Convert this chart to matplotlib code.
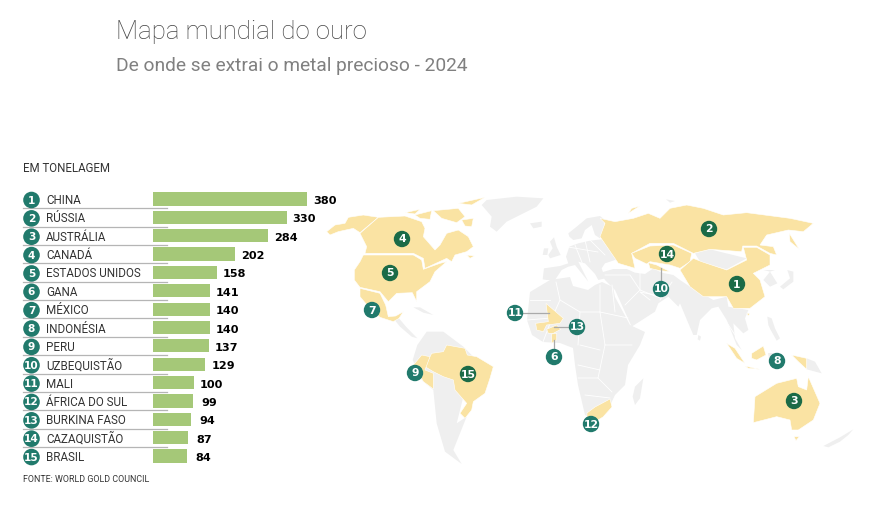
#!/usr/bin/env python3
"""Mapa mundial do ouro: bar list on the left, hand-traced world map on the right."""

import matplotlib

matplotlib.use("Agg")
import matplotlib.pyplot as plt
from matplotlib.patches import Circle, Polygon

W, H = 881, 509

countries = ["CHINA", "RÚSSIA", "AUSTRÁLIA", "CANADÁ", "ESTADOS UNIDOS", "GANA", "MÉXICO",
             "INDONÉSIA", "PERU", "UZBEQUISTÃO", "MALI", "ÁFRICA DO SUL", "BURKINA FASO",
             "CAZAQUISTÃO", "BRASIL"]
tons = [380, 330, 284, 202, 158, 141, 140, 140, 137, 129, 100, 99, 94, 87, 84]

# map marker centres, rank order (pixels)
marker_xy = [(737, 284), (709, 229), (794, 401), (402, 239), (390, 273), (554, 357), (372, 310),
             (777, 361), (415, 373), (661, 289), (515, 313), (591, 424), (577, 327), (667, 254),
             (468, 374)]
on_yellow = {1, 2, 3, 4, 5, 14, 15}
leaders = [((661, 268), (661, 281)), ((523, 313), (549, 313)), ((554, 327), (569, 327)),
           ((554, 340), (554, 349))]


def trace(x0, y0, pts):
    return [(x0 + x / 3, y0 + y / 3) for x, y in pts]


def west(pts):
    return trace(330, 190, pts)


def east(pts):
    return trace(590, 190, pts)


def eur(pts):
    return trace(530, 200, pts)


def nam(pts):
    return trace(325, 190, pts)


def sea(pts):
    return trace(680, 270, pts)


# grey land
greenland = west([(470, 30), (560, 20), (640, 25), (620, 50), (570, 75), (530, 95), (500, 125),
                  (480, 110), (485, 80), (455, 45)])
iceland = west([(600, 100), (635, 95), (635, 110), (610, 115)])
britain = eur([(60, 125), (72, 112), (80, 140), (92, 165), (60, 175), (55, 165), (68, 145)])
ireland = eur([(42, 145), (55, 145), (52, 165), (38, 165)])
svalbard = east([(228, 28), (255, 33), (240, 38)])
europe = eur([(38, 238), (42, 205), (90, 198), (115, 190), (108, 170), (118, 140), (145, 130), (180, 122),
              (215, 118), (232, 135), (270, 185), (255, 180), (225, 190), (215, 205), (225, 235), (205, 240),
              (195, 222), (165, 190), (145, 185), (175, 245), (155, 220), (135, 195), (115, 200), (95, 210),
              (75, 240), (50, 240)])
nordic = eur([(115, 100), (140, 80), (170, 55), (210, 48), (225, 60), (218, 100), (210, 115), (195, 105),
              (185, 75), (165, 90), (155, 115), (130, 120), (118, 110)])
africa = [(527, 320), (530, 292), (550, 280), (570, 277), (573, 286), (588, 290), (595, 285), (602, 282),
          (613, 287), (615, 297), (630, 325), (645, 332), (640, 345), (628, 365), (625, 385), (615, 395),
          (608, 410), (595, 420), (585, 415), (578, 385), (575, 365), (573, 348), (560, 343), (543, 342),
          (532, 335)]
madagascar = east([(160, 565), (150, 625), (135, 645), (128, 620), (135, 590)])
asia = eur([(212, 218), (250, 207), (290, 207), (315, 218), (345, 222), (370, 205), (395, 218), (430, 225),
            (450, 240)]) + sea([(30, 50), (100, 90), (140, 80), (145, 110), (205, 120), (195, 145), (205, 180),
                                 (190, 190), (160, 160), (165, 205), (185, 240), (170, 225), (150, 175), (140, 150),
                                 (115, 110), (95, 115), (60, 150), (50, 195), (40, 195), (25, 160), (0, 100)]) + eur(
    [(445, 320), (415, 290), (385, 310), (375, 335), (305, 380), (255, 270), (225, 240)])
mongolia = east([(315, 190), (360, 178), (470, 205), (410, 238), (330, 215)])
korea = sea([(250, 30), (270, 5), (292, 40), (270, 50)])
russia_far = sea([(250, 0), (285, 0), (270, 5)])
japan = sea([(300, 50), (330, 25), (322, 0), (340, 5), (340, 35), (310, 58)])
philippines = sea([(262, 140), (275, 145), (285, 175), (300, 205), (290, 212), (272, 180), (265, 165)])
papua = sea([(380, 265), (405, 275), (425, 310), (380, 298)])
sulawesi = sea([(265, 250), (290, 250), (290, 285), (270, 285)])
new_zealand = east([(700, 768), (750, 742), (790, 718), (775, 735), (750, 755), (715, 772)])
srilanka = sea([(55, 195), (63, 200), (60, 212), (53, 208)])
central_am = west([(190, 385), (207, 385), (228, 410), (262, 445), (245, 440), (210, 410)])
cuba = west([(250, 352), (270, 352), (310, 375), (280, 368)])
south_am = west([(248, 510), (262, 465), (290, 425), (340, 425), (400, 470), (430, 500),
                 (380, 700), (410, 680), (370, 780), (395, 822), (345, 785), (320, 700), (310, 600),
                 (275, 570)])
grey_land = [greenland, iceland, britain, ireland, svalbard, europe, nordic, africa, madagascar, asia, mongolia,
             korea, russia_far, japan, philippines, papua, sulawesi, new_zealand, srilanka, central_am, cuba,
             south_am]

# white country borders over the grey land
borders = [[(527, 320), (552, 318), (560, 300), (556, 282)], [(560, 300), (580, 312), (600, 312), (600, 285)],
           [(580, 312), (578, 345)], [(600, 312), (605, 345), (632, 345)], [(605, 345), (598, 378), (578, 378)],
           [(598, 378), (612, 392)], [(585, 395), (610, 398)], [(552, 318), (543, 342)], [(580, 345), (600, 350)],
           [(600, 312), (628, 318)], [(612, 285), (615, 312)], [(575, 245), (583, 265)], [(568, 247), (598, 252)],
           [(585, 240), (590, 262)], [(590, 240), (605, 255)], [(605, 275), (630, 275), (640, 290)],
           [(640, 272), (640, 290), (660, 298)], [(660, 300), (672, 282)], [(722, 315), (735, 335)],
           [(640, 290), (625, 305)], [(655, 295), (640, 292), (650, 300)],
           [(530, 300), (550, 300)], [(578, 365), (600, 370)]]

# yellow producers
alaska = nam([(5, 125), (30, 105), (60, 100), (70, 82), (115, 75), (160, 82), (105, 128), (85, 115), (40, 125),
              (15, 135)])
canada = nam([(160, 82), (240, 78), (290, 95), (300, 115), (295, 140), (330, 180), (345, 165), (365, 130), (400, 120),
              (430, 140), (445, 170), (425, 185), (390, 195), (380, 215), (365, 205), (300, 235), (295, 205),
              (265, 190), (120, 190), (125, 170), (105, 130)])
nova_scotia = nam([(425, 195), (448, 198), (435, 205)])
arctic = [nam(p) for p in ([(240, 68), (285, 58), (270, 72)], [(270, 75), (320, 62), (315, 88), (285, 85)],
                           [(325, 62), (400, 55), (420, 80), (395, 98), (350, 85)], [(400, 40), (480, 22), (440, 45)],
                           [(410, 90), (445, 85), (440, 110), (420, 108)])]
usa = nam([(115, 195), (265, 195), (290, 210), (295, 238), (345, 220), (365, 215), (330, 245), (315, 275), (275, 305),
           (275, 335), (262, 308), (215, 310), (190, 335), (165, 305), (105, 292), (88, 270), (88, 240), (105, 215)])
mexico = nam([(105, 295), (165, 310), (182, 345), (190, 380), (212, 378), (235, 365), (222, 385), (205, 395), (165, 382),
              (130, 350), (105, 320)])
brazil = west([(285, 530), (305, 490), (340, 485), (350, 465), (405, 475), (412, 495), (440, 500), (490, 530),
               (480, 565), (465, 610), (430, 635), (425, 660), (405, 685), (390, 670), (410, 640), (375, 600),
               (370, 570), (340, 560), (310, 545)])
peru = west([(250, 525), (275, 495), (300, 500), (285, 540), (310, 550), (310, 597), (280, 575), (260, 540)])
mali = west([(648, 340), (700, 385), (690, 400), (650, 405), (640, 425), (620, 420), (617, 400), (655, 395)])
burkina = west([(650, 418), (680, 405), (692, 418), (670, 430), (655, 430)])
ghana = west([(665, 432), (680, 430), (680, 450), (665, 460)])
south_africa = [(587, 413), (595, 407), (610, 399), (612, 407), (603, 417), (593, 423), (587, 420)]
russia = east([(30, 140), (45, 100), (30, 85), (75, 95), (130, 85), (175, 70), (210, 85), (240, 55), (290, 45),
               (340, 55), (400, 75), (470, 68), (600, 85), (670, 100), (640, 125), (595, 120), (530, 135),
               (510, 165), (550, 170), (560, 195), (540, 190), (500, 168), (458, 168), (455, 185), (360, 178),
               (310, 190), (250, 160), (180, 160), (125, 190), (135, 235), (85, 220)])
novaya = east([(115, 70), (150, 48), (125, 55)])
kamchatka = east([(598, 130), (628, 178), (600, 155)])
kazakhstan = east([(125, 190), (180, 168), (250, 165), (305, 190), (300, 215), (270, 235), (240, 225),
                   (180, 215), (170, 222), (135, 205)])
uzbekistan = east([(175, 218), (200, 225), (240, 245), (210, 242), (180, 235)])
china = east([(270, 240), (310, 205), (335, 215), (410, 240), (470, 210), (460, 172), (500, 172), (540, 195),
              (540, 225), (490, 250), (510, 270), (525, 320), (480, 355), (430, 355), (410, 320), (340, 320),
              (300, 290)])
hainan = sea([(200, 130), (210, 130), (205, 138)])
sumatra = sea([(140, 220), (165, 235), (195, 280), (170, 265)])
borneo = sea([(215, 250), (250, 228), (258, 255), (230, 270), (215, 265)])
java = sea([(195, 288), (240, 298), (205, 295)])
west_papua = sea([(335, 255), (380, 265), (380, 298), (355, 275)])
australia = east([(495, 620), (560, 580), (620, 565), (625, 590), (650, 600), (655, 560), (690, 640), (670, 690),
                  (625, 720), (605, 720), (600, 690), (560, 680), (490, 698)])
tasmania = east([(612, 740), (628, 740), (618, 752)])
yellow_land = [alaska, canada, nova_scotia, *arctic, usa, mexico, brazil, peru, mali, burkina, ghana, south_africa,
               russia, novaya, kamchatka, kazakhstan, uzbekistan, china, hainan, sumatra, borneo, java, west_papua,
               australia, tasmania]

GREY = "#efefef"
YELLOW = "#fae3a3"
BAR = "#a5c878"
TEAL = "#217a6c"
DARK = "#1b6b47"
INK = "#333333"

fig = plt.figure(figsize=(W / 100, H / 100), dpi=100, facecolor="white")
ax = fig.add_axes([0, 0, 1, 1])
ax.set_xlim(0, W)
ax.set_ylim(H, 0)
ax.axis("off")

for pts in grey_land:
    ax.add_patch(Polygon(pts, closed=True, fc=GREY, ec="none", zorder=1))
for line in borders:
    xs, ys = zip(*line)
    ax.plot(xs, ys, color="white", lw=0.6, zorder=1.5)
for pts in yellow_land:
    ax.add_patch(Polygon(pts, closed=True, fc=YELLOW, ec="white", lw=0.4, zorder=2))
for a, b in leaders:
    ax.plot([a[0], b[0]], [a[1], b[1]], color="#aaaaaa", lw=0.9, zorder=3)
for i, (x, y) in enumerate(marker_xy):
    color = DARK if i + 1 in on_yellow else TEAL
    ax.add_patch(Circle((x, y), 8.2, fc=color, ec="none", zorder=4))
    ax.text(x, y + 0.5, str(i + 1), color="white", fontsize=7.8, fontweight="bold",
            ha="center", va="center", zorder=5)

ax.text(116, 32, "Mapa mundial do ouro", fontsize=18.5, color="#454545", family="Roboto", fontweight="light",
        va="center")
ax.text(116, 66, "De onde se extrai o metal precioso - 2024", fontsize=13.8, color="#808080",
        family="Roboto", va="center")
ax.text(23, 169, "EM TONELAGEM", fontsize=8.3, color=INK, family="Roboto", va="center")
ax.text(23, 480, "FONTE: WORLD GOLD COUNCIL", fontsize=6.4, color=INK, family="Roboto", va="center")

# bars get their own axes so the width comes from the value scale
row0, step = 199, 18.36
top = row0 - step / 2
bottom = row0 + 14.5 * step
ax_bars = fig.add_axes([153 / W, 1 - bottom / H, 154 / W, (bottom - top) / H])
ax_bars.set_xlim(0, 380)
ax_bars.set_ylim(14.5, -0.5)
ax_bars.axis("off")
ax_bars.patch.set_alpha(0)
ax_bars.barh(range(len(tons)), tons, height=0.72, color=BAR)
for i, v in enumerate(tons):
    ax_bars.annotate(str(v), (v, i), xytext=(6 if v >= 100 else 8, -2), textcoords="offset pixels",
                     fontsize=8.1, fontweight="bold", color="black", va="center", annotation_clip=False)

for i, name in enumerate(countries):
    y = row0 + i * step
    if i < len(countries) - 1:
        ax.plot([23, 167], [y + 9.3, y + 9.3], color="#b5b5b5", lw=0.9, zorder=1)
    ax.add_patch(Circle((31.5, y + 1), 8.3, fc=TEAL, ec="none", zorder=3))
    ax.text(31.5, y + 1.5, str(i + 1), color="white", fontsize=7.6, fontweight="bold",
            ha="center", va="center", zorder=4)
    ax.text(46, y + 1.5, name, fontsize=8.4, color=INK, family="Roboto", va="center")

fig.savefig("out.png", dpi=100)
